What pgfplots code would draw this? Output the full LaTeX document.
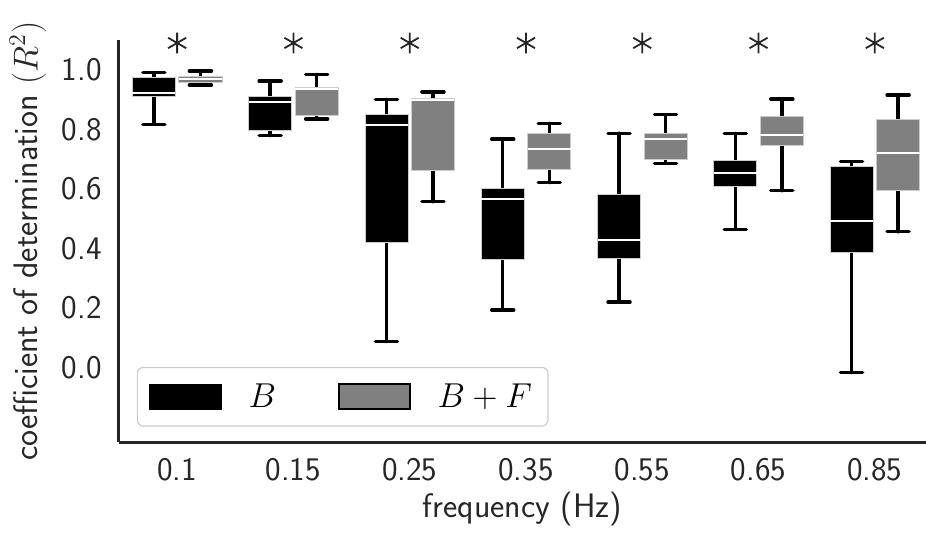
\documentclass[border=0pt]{standalone}
\usepackage{pgfplots}
\pgfplotsset{compat=1.18}
\usepgfplotslibrary{statistics}
\usetikzlibrary{calc}
\definecolor{spine}{HTML}{262626}
\definecolor{bfgray}{HTML}{808080}
\newcommand{\bx}[7]{\addplot[forget plot, #1, boxplot prepared={draw position=#2, lower whisker=#3, lower quartile=#4, median=#5, upper quartile=#6, upper whisker=#7}] coordinates {};}
\begin{document}
\begin{tikzpicture}
\begin{axis}[
  name=ax,
  scale only axis,
  width=403.5pt, height=201pt,
  xmin=-0.5, xmax=6.44,
  ymin=-0.25, ymax=1.1,
  clip=false,
  axis x line*=bottom, axis y line*=left,
  axis line style={-, line width=1.5pt, color=spine},
  xtick={0,1,2,3,4,5,6},
  xticklabels={0.1,0.15,0.25,0.35,0.55,0.65,0.85},
  ytick={0,0.2,0.4,0.6,0.8,1.0},
  major tick length=0pt,
  tick label style={font=\fontsize{16.5}{19}\selectfont\sffamily, color=spine},
  /pgf/number format/assume math mode=true,
  yticklabel style={/pgf/number format/fixed, /pgf/number format/fixed zerofill, /pgf/number format/precision=1, xshift=-5.2pt},
  xticklabel style={yshift=-4.5pt},
  xlabel={frequency (Hz)},
  ylabel={coefficient of determination $(R^2)$},
  label style={font=\fontsize{17}{20}\selectfont\sffamily, color=spine},
  xlabel style={at={(axis description cs:0.5,0)}, anchor=base, yshift=-37.5pt},
  ylabel style={at={($(axis description cs:0,0.5)+(-45.5pt,0)$)}, anchor=center},
  boxplot/draw direction=y,
  boxplot/box extend=0.37,
  boxplot/whisker extend=0.19,
  boxplot/every whisker/.style={draw=black, line width=1.7pt, line cap=round},
  boxplot/every median/.style={draw=white, line width=1pt},
  Bst/.style={fill=black, draw=white!80!black, line width=0.4pt},
  BFst/.style={fill=bfgray, draw=white!80!black, line width=0.4pt},
  legend style={at={(0.022,0.187)}, anchor=north west, draw=white!80!black, line width=0.6pt, rounded corners=3pt, fill=white, font=\fontsize{17}{20}\selectfont, inner xsep=6pt, inner ysep=6pt},
  legend columns=2,
  legend style={/tikz/every even column/.append style={column sep=29pt}, /tikz/every odd column/.append style={column sep=11.5pt}},
]
% B: draw position, lower whisker, lower quartile, median, upper quartile, upper whisker
\bx{Bst}{-0.2}{0.817}{0.910}{0.923}{0.973}{0.990}
\bx{Bst}{0.8}{0.779}{0.798}{0.891}{0.912}{0.962}
\bx{Bst}{1.8}{0.087}{0.419}{0.814}{0.849}{0.901}
\bx{Bst}{2.8}{0.193}{0.364}{0.565}{0.602}{0.767}
\bx{Bst}{3.8}{0.220}{0.366}{0.428}{0.580}{0.787}
\bx{Bst}{4.8}{0.464}{0.610}{0.652}{0.697}{0.787}
\bx{Bst}{5.8}{-0.017}{0.387}{0.493}{0.675}{0.691}
% B+F
\bx{BFst}{0.2}{0.949}{0.959}{0.968}{0.979}{0.996}
\bx{BFst}{1.2}{0.835}{0.846}{0.935}{0.940}{0.985}
\bx{BFst}{2.2}{0.557}{0.663}{0.899}{0.904}{0.926}
\bx{BFst}{3.2}{0.621}{0.666}{0.733}{0.787}{0.820}
\bx{BFst}{4.2}{0.686}{0.699}{0.767}{0.787}{0.849}
\bx{BFst}{5.2}{0.594}{0.747}{0.781}{0.842}{0.902}
\bx{BFst}{6.2}{0.456}{0.596}{0.722}{0.834}{0.915}
% significance markers
\addplot[forget plot, only marks, mark=asterisk, mark size=5.2pt, mark options={line width=0.9pt, draw=spine}] coordinates {(0,1.09) (1,1.09) (2,1.09) (3,1.09) (4,1.09) (5,1.09) (6,1.09)};
\addlegendimage{legend image code/.code={\fill[black, sharp corners] (0pt,-6.25pt) rectangle (35.5pt,6.25pt);}}
\addlegendentry{$B$}
\addlegendimage{legend image code/.code={\filldraw[fill=bfgray, draw=black, line width=0.8pt, sharp corners] (0pt,-6.25pt) rectangle (35.5pt,6.25pt);}}
\addlegendentry{$B+F$}
\end{axis}
\pgfresetboundingbox
\path ($(ax.south west)+(-59.5pt,-47pt)$) rectangle ($(ax.north east)+(0pt,20pt)$);
\end{tikzpicture}
\end{document}
